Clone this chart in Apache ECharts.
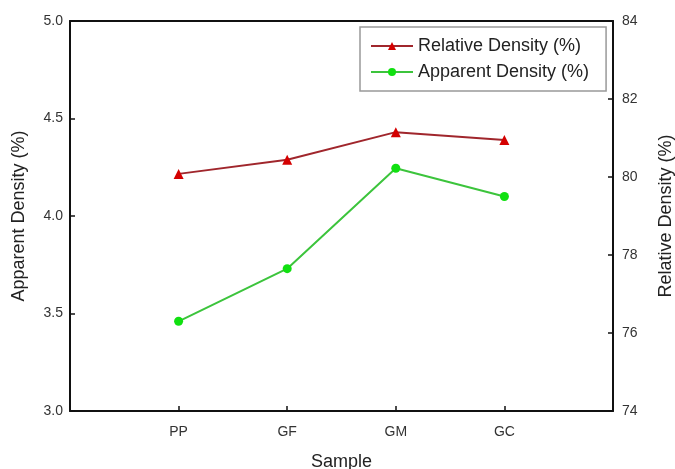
<!DOCTYPE html>
<html>
<head>
<meta charset="utf-8">
<script src="https://cdn.jsdelivr.net/npm/echarts@6/dist/echarts.min.js"></script>
<style>html,body{margin:0;padding:0;background:#fff}#c{width:675px;height:469px}</style>
</head>
<body>
<div id="c"></div>
<script>
var categories = ['PP', 'GF', 'GM', 'GC'];
var relativeDensity = [80.08, 80.44, 81.15, 80.95];
var apparentDensity = [3.46, 3.73, 4.245, 4.10];
var leftTicks = [3.0, 3.5, 4.0, 4.5, 5.0];
var rightTicks = [74, 76, 78, 80, 82, 84];

var font = 'Liberation Sans, Arial, sans-serif';
function pairs(vals) { return vals.map(function (v, i) { return [i + 1, v]; }); }

var chart = echarts.init(document.getElementById('c'));
chart.setOption({
  animation: false,
  textStyle: { fontFamily: font },
  grid: { left: 70, right: 62, top: 21, bottom: 58, containLabel: false, outerBoundsMode: 'none' },
  legend: {
    orient: 'vertical', left: 360, top: 27,
    padding: [10, 17, 10, 10], itemGap: 8,
    borderColor: '#999', borderWidth: 1.5,
    itemWidth: 42, itemHeight: 10,
    textStyle: { fontFamily: font, fontSize: 18, color: '#222' },
    data: ['Relative Density (%)', 'Apparent Density (%)']
  },
  xAxis: [{
    type: 'value', min: 0, max: 5, interval: 1,
    name: 'Sample', nameLocation: 'middle', nameGap: 42,
    nameTextStyle: { fontFamily: font, fontSize: 18, color: '#222' },
    axisLine: { onZero: false, lineStyle: { color: '#111', width: 2 } },
    axisTick: { inside: true, length: 5, lineStyle: { color: '#111', width: 1.5 } },
    axisLabel: {
      fontSize: 14, color: '#333', margin: 14,
      formatter: function (v) { return categories[v - 1] || ''; }
    },
    splitLine: { show: false }
  }, {
    type: 'value', min: 0, max: 5, position: 'top',
    axisLine: { show: true, onZero: false, lineStyle: { color: '#111', width: 2 } },
    axisTick: { show: false }, axisLabel: { show: false }, splitLine: { show: false }
  }],
  yAxis: [{
    type: 'value', min: leftTicks[0], max: leftTicks[leftTicks.length - 1], interval: 0.5,
    name: 'Apparent Density (%)', nameLocation: 'middle', nameGap: 42,
    nameTextStyle: { fontFamily: font, fontSize: 18, color: '#222' },
    axisLine: { show: true, onZero: false, lineStyle: { color: '#111', width: 2 } },
    axisTick: { inside: true, length: 5, lineStyle: { color: '#111', width: 1.5 } },
    axisLabel: { fontSize: 14, color: '#333', margin: 7, formatter: function (v) { return v.toFixed(1); } },
    splitLine: { show: false }
  }, {
    type: 'value', min: rightTicks[0], max: rightTicks[rightTicks.length - 1], interval: 2,
    position: 'right',
    name: 'Relative Density (%)', nameLocation: 'middle', nameGap: 44, nameRotate: 90,
    nameTextStyle: { fontFamily: font, fontSize: 18, color: '#222' },
    axisLine: { show: true, onZero: false, lineStyle: { color: '#111', width: 2 } },
    axisTick: { inside: true, length: 5, lineStyle: { color: '#111', width: 1.5 } },
    axisLabel: { fontSize: 14, color: '#333', margin: 9 },
    splitLine: { show: false }
  }],
  series: [{
    name: 'Relative Density (%)', type: 'line', yAxisIndex: 1,
    data: pairs(relativeDensity),
    symbol: 'triangle', symbolSize: 10,
    lineStyle: { color: '#a0262c', width: 2 },
    itemStyle: { color: '#d40000', borderWidth: 0 }
  }, {
    name: 'Apparent Density (%)', type: 'line', yAxisIndex: 0,
    data: pairs(apparentDensity),
    symbol: 'circle', symbolSize: 9,
    lineStyle: { color: '#3cc43c', width: 2 },
    itemStyle: { color: '#11e011', borderWidth: 0 }
  }]
});
</script>
</body>
</html>
